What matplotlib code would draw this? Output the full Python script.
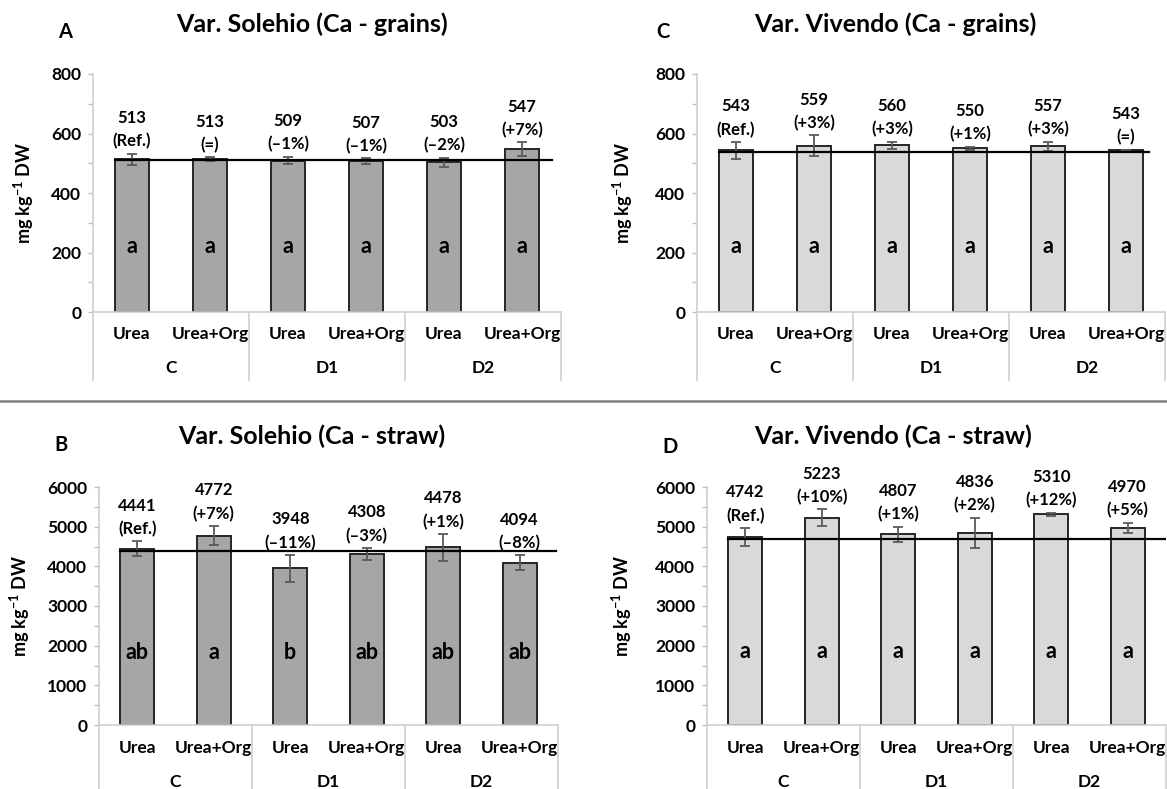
import numpy as np
import matplotlib
matplotlib.use("Agg")
import matplotlib.pyplot as plt

plt.rcParams['font.family'] = ['Lato', 'DejaVu Sans']
plt.rcParams['font.weight'] = 'bold'
plt.rcParams['mathtext.fontset'] = 'custom'
plt.rcParams['mathtext.rm'] = 'Lato:bold'
plt.rcParams['mathtext.bf'] = 'Lato:bold'

# ---------------- data ----------------
cats = ['Urea', 'Urea+Org', 'Urea', 'Urea+Org', 'Urea', 'Urea+Org']
groups = ['C', 'D1', 'D2']

a_mean = [513, 513, 509, 507, 503, 547]
a_err = [19, 7, 13, 9, 16, 23]
a_pct = ['(Ref.)', '(=)', '(–1%)', '(–1%)', '(–2%)', '(+7%)']
a_letters = ['a', 'a', 'a', 'a', 'a', 'a']
a_ref = 511

c_mean = [543, 559, 560, 550, 557, 543]
c_err = [28, 35, 12, 5, 15, 3]
c_pct = ['(Ref.)', '(+3%)', '(+3%)', '(+1%)', '(+3%)', '(=)']
c_letters = ['a', 'a', 'a', 'a', 'a', 'a']
c_ref = 539

b_mean = [4441, 4772, 3948, 4308, 4478, 4094]
b_err = [190, 240, 335, 150, 335, 180]
b_pct = ['(Ref.)', '(+7%)', '(–11%)', '(–3%)', '(+1%)', '(–8%)']
b_letters = ['ab', 'a', 'b', 'ab', 'ab', 'ab']
b_ref = 4390

d_mean = [4742, 5223, 4807, 4836, 5310, 4970]
d_err = [225, 210, 190, 385, 40, 135]
d_pct = ['(Ref.)', '(+10%)', '(+1%)', '(+2%)', '(+12%)', '(+5%)']
d_letters = ['a', 'a', 'a', 'a', 'a', 'a']
d_ref = 4690

W, H = 1167, 789
fig = plt.figure(figsize=(W / 100, H / 100), dpi=100)


def px_axes(left, right, top, bottom):
    return fig.add_axes([left / W, 1 - bottom / H, (right - left) / W, (bottom - top) / H])


def panel(ax, means, errs, pcts, letters, ref, color, ymax, major, minor,
          letter_frac, ref_end, cat_y, grp_y, sep_y, ylab_x):
    x = np.arange(len(means))
    ax.bar(x, means, width=0.44, color=color, edgecolor='#262626', linewidth=1.4, zorder=2)
    ax.errorbar(x, means, yerr=errs, fmt='none', ecolor='#595959', elinewidth=1.3,
                capsize=3.5, capthick=1.3, zorder=4)
    ax.plot([-0.22, ref_end], [ref, ref], color='black', lw=1.6, zorder=5)
    for i in range(len(means)):
        ax.annotate('%d\n%s' % (means[i], pcts[i]), (x[i], means[i] + errs[i]),
                    xytext=(0, 3), textcoords='offset points', ha='center', va='bottom',
                    fontsize=12, fontweight='bold', linespacing=1.55)
        ax.text(x[i], letter_frac, letters[i], transform=ax.get_xaxis_transform(),
                ha='center', va='center', fontsize=15.5, fontweight='bold', zorder=6)
    ax.set_xlim(-0.5, 5.5)
    ax.set_ylim(0, ymax)
    ax.set_yticks(np.arange(0, ymax + 1, major))
    ax.set_yticks(np.arange(0, ymax + 1, minor), minor=True)
    ax.tick_params(axis='y', which='both', length=3.5, width=1, color='#bfbfbf',
                   labelsize=12.5, pad=5)
    for lab in ax.get_yticklabels():
        lab.set_fontweight('bold')
    ax.set_xticks([])
    for s in ['top', 'right']:
        ax.spines[s].set_visible(False)
    ax.spines['left'].set_color('#d0d0d0')
    ax.spines['bottom'].set_color('#d0d0d0')
    ax.spines['left'].set_linewidth(1.2)
    ax.spines['bottom'].set_linewidth(1.2)
    tr = ax.get_xaxis_transform()
    for i, c in enumerate(cats):
        ax.text(x[i], cat_y, c, transform=tr, ha='center', va='center',
                fontsize=12.5, fontweight='bold')
    for g, name in enumerate(groups):
        ax.text(2 * g + 0.5, grp_y, name, transform=tr, ha='center', va='center',
                fontsize=12.5, fontweight='bold')
    for sx in [-0.5, 1.5, 3.5, 5.5]:
        ax.plot([sx, sx], [0, sep_y], transform=tr, color='#d0d0d0', lw=1.2, clip_on=False)
    ax.set_ylabel('mg kg$^{-1}$ DW', fontsize=13, fontweight='bold')
    ax.yaxis.set_label_coords(ylab_x, 0.5)


ax_a = px_axes(93, 561, 74, 312)
panel(ax_a, a_mean, a_err, a_pct, a_letters, a_ref, '#a6a6a6', 800, 200, 100,
      0.275, 5.38, -0.092, -0.235, -0.286, -0.122)
ax_c = px_axes(697, 1165, 74, 312)
panel(ax_c, c_mean, c_err, c_pct, c_letters, c_ref, '#d9d9d9', 800, 200, 100,
      0.275, 5.3, -0.092, -0.235, -0.286, -0.133)
ax_b = px_axes(99, 558, 487, 725)
panel(ax_b, b_mean, b_err, b_pct, b_letters, b_ref, '#a6a6a6', 6000, 1000, 500,
      0.303, 5.47, -0.097, -0.24, -0.27, -0.145)
ax_d = px_axes(707, 1166, 487, 725)
panel(ax_d, d_mean, d_err, d_pct, d_letters, d_ref, '#d9d9d9', 6000, 1000, 500,
      0.31, 5.5, -0.097, -0.24, -0.27, -0.158)

# titles and panel letters
titles = ['Var. Solehio (Ca - grains)', 'Var. Vivendo (Ca - grains)',
          'Var. Solehio (Ca - straw)', 'Var. Vivendo (Ca - straw)']
title_pos = [(312, 24), (895, 24), (312, 436), (893, 436)]
for t, (tx, ty) in zip(titles, title_pos):
    fig.text(tx / W, 1 - ty / H, t, ha='center', va='center', fontsize=18, fontweight='bold')
letters_pos = [('A', 65, 32), ('C', 663, 32), ('B', 61, 445), ('D', 670, 447)]
for t, lx, ly in letters_pos:
    fig.text(lx / W, 1 - ly / H, t, ha='center', va='center', fontsize=14.5, fontweight='bold')

# separator between the two rows
fig.add_artist(plt.Line2D([0, 1], [1 - 401 / H, 1 - 401 / H], color='#808080', lw=1.8))

fig.savefig('out.png', dpi=100)
